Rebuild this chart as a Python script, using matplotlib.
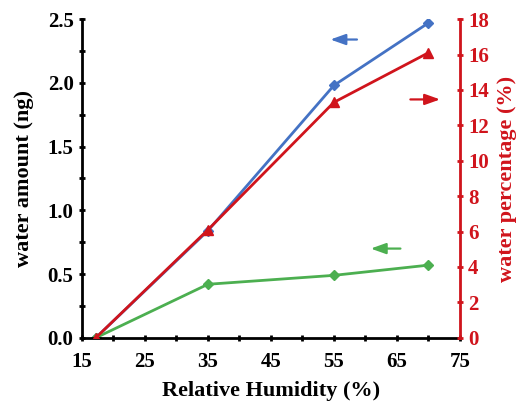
import matplotlib.pyplot as plt
from matplotlib.ticker import MultipleLocator

plt.rcParams['font.family'] = ['Liberation Serif', 'DejaVu Serif']
plt.rcParams['font.weight'] = 'bold'

# Data
rh = [17.2, 35, 55, 70]
water_blue = [0.0, 0.84, 1.98, 2.47]
water_green = [0.0, 0.42, 0.49, 0.57]
water_pct = [0.0, 6.1, 13.3, 16.1]

x_ticks = [15, 25, 35, 45, 55, 65, 75]
y_ticks = [0, 0.5, 1.0, 1.5, 2.0, 2.5]
y_ticklabels = ['0.0', '0.5', '1.0', '1.5', '2.0', '2.5']

# arrow annotations (x_start, x_end, y) in left-axis units
arrow_blue = (59.1, 54.0, 2.34)
arrow_red = (66.7, 72.3, 1.87)
arrow_green = (66.0, 60.4, 0.70)

blue = '#4472c4'
green = '#4caf50'
red = '#d0141c'

fig = plt.figure(figsize=(5.25, 4.07), dpi=100)
ax = fig.add_axes([0.156, 0.170, 0.720, 0.783])
ax2 = ax.twinx()

ax.plot(rh, water_blue, color=blue, lw=2, marker='D', ms=5)
ax.plot(rh, water_green, color=green, lw=2, marker='D', ms=5)
ax2.plot(rh, water_pct, color=red, lw=2, marker='^', ms=7)

ax.set_xlim(15, 75)
ax.set_ylim(0, 2.5)
ax2.set_ylim(0, 18)

ax.set_xticks(x_ticks)
ax.xaxis.set_minor_locator(MultipleLocator(5))
ax.set_yticks(y_ticks)
ax.set_yticklabels(y_ticklabels)
ax.yaxis.set_minor_locator(MultipleLocator(0.25))
ax2.yaxis.set_major_locator(MultipleLocator(2))

for a in (ax, ax2):
    a.spines['top'].set_visible(False)
ax.spines['left'].set_linewidth(2)
ax.spines['bottom'].set_linewidth(2)
ax2.spines['right'].set_linewidth(2)
ax2.spines['right'].set_color(red)
ax2.spines['left'].set_visible(False)
ax2.spines['bottom'].set_visible(False)

ax.tick_params(axis='both', which='major', length=5, width=2, labelsize=15, direction='inout')
ax.tick_params(axis='x', which='major', pad=8)
ax.tick_params(axis='both', which='minor', length=4, width=2, direction='inout')
ax2.tick_params(axis='y', which='major', length=5, width=2, labelsize=15, colors=red, direction='inout')

ax.set_xlabel('Relative Humidity (%)', fontsize=16, fontweight='bold', labelpad=6)
ax.set_ylabel('water amount (ng)', fontsize=16, fontweight='bold', labelpad=10)
ax2.set_ylabel('water percentage (%)', fontsize=16, fontweight='bold', color=red, labelpad=6)

for (x0, x1, y), c in [(arrow_blue, blue), (arrow_red, red), (arrow_green, green)]:
    ax.annotate('', xy=(x1, y), xytext=(x0, y),
                arrowprops=dict(arrowstyle='-|>,head_length=0.7,head_width=0.25',
                                color=c, lw=1.6, mutation_scale=13))

for a in (ax, ax2):
    for lab in a.get_xticklabels() + a.get_yticklabels():
        lab.set_fontweight('bold')

fig.savefig('out.png', dpi=100)
